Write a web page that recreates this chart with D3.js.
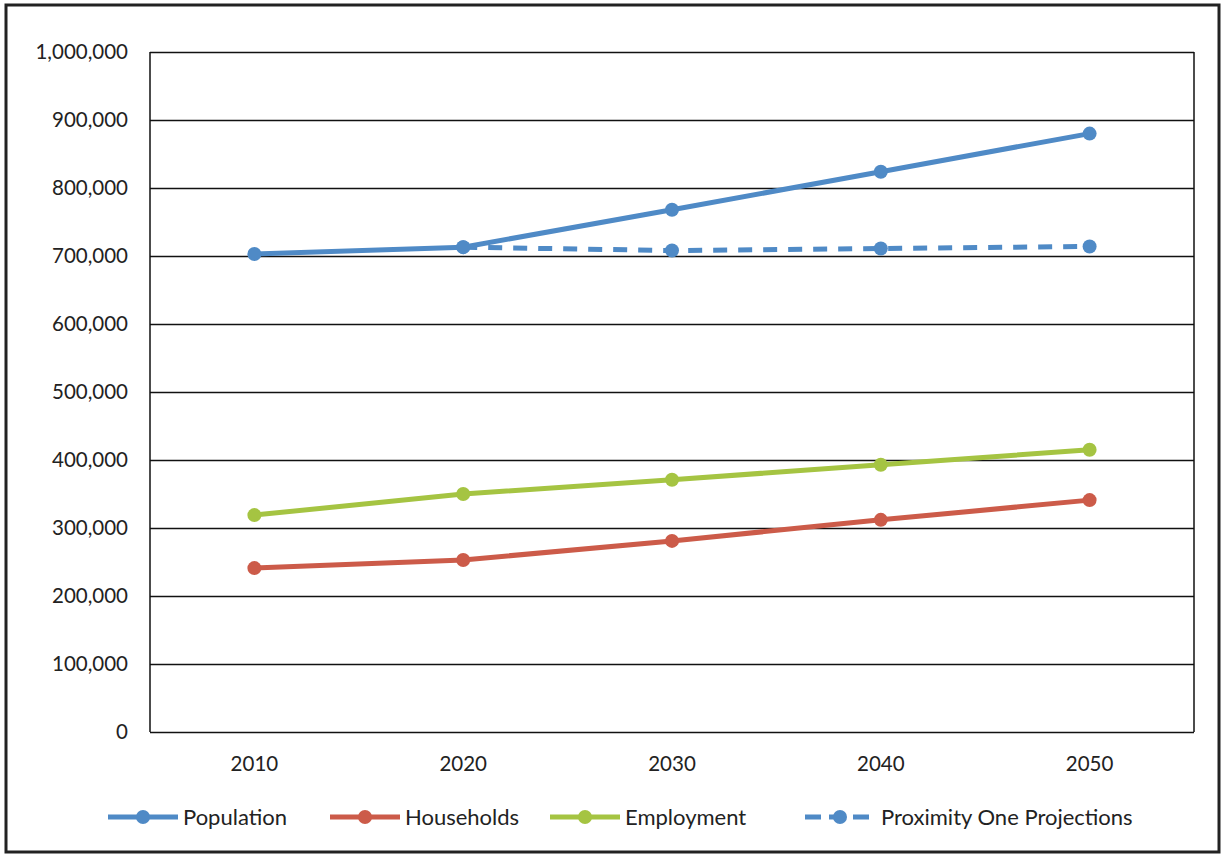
<!DOCTYPE html>
<html>
<head>
<meta charset="utf-8">
<script src="https://cdn.jsdelivr.net/npm/d3@7"></script>
<style>
  body { margin: 0; background: #fff; }
  text { font-family: Lato, "Open Sans", sans-serif; fill: #222; }
</style>
</head>
<body>
<svg id="chart"></svg>
<script>
var years = ["2010", "2020", "2030", "2040", "2050"];
var population = [703000, 713000, 768000, 824000, 880000];
var households = [241000, 253000, 281000, 312000, 341000];
var employment = [319000, 350000, 371000, 393000, 415000];
// projections start at 2020
var projYears = ["2020", "2030", "2040", "2050"];
var projections = [713000, 708000, 711000, 714000];
var yTicks = [0, 100000, 200000, 300000, 400000, 500000, 600000, 700000, 800000, 900000, 1000000];

function init() {
    var w = 1225, h = 858;
    var left = 150, right = 1194, plotTop = 52, bottom = 732;

    var svg = d3.select("#chart").attr("width", w).attr("height", h);

    // outer frame
    svg.append("rect")
        .attr("x", 6).attr("y", 5).attr("width", 1213).attr("height", 847)
        .attr("fill", "none").attr("stroke", "#222").attr("stroke-width", 3);

    var x = d3.scaleBand().domain(years).range([left, right]);
    var y = d3.scaleLinear().domain([0, 1000000]).range([bottom, plotTop]);

    // gridlines + labels
    var yAxis = d3.axisLeft(y)
        .tickValues(yTicks)
        .tickSize(-(right - left))
        .tickPadding(22)
        .tickFormat(d3.format(","));

    svg.append("g")
        .attr("transform", "translate(" + left + ",0)")
        .call(yAxis)
        .call(function(g) {
            g.select(".domain").remove();
            g.selectAll(".tick line").attr("stroke", "#111").attr("stroke-width", 1.5);
            g.selectAll(".tick text").style("font-size", "20.5px").attr("fill", "#222");
        });

    // left and right borders of plot
    svg.append("line").attr("x1", left).attr("x2", left).attr("y1", plotTop).attr("y2", bottom)
        .attr("stroke", "#111").attr("stroke-width", 1.5);
    svg.append("line").attr("x1", right).attr("x2", right).attr("y1", plotTop).attr("y2", bottom)
        .attr("stroke", "#111").attr("stroke-width", 1.5);

    var xAxis = d3.axisBottom(x).tickSize(0).tickPadding(24);
    svg.append("g")
        .attr("transform", "translate(0," + bottom + ")")
        .call(xAxis)
        .call(function(g) {
            g.select(".domain").remove();
            g.selectAll(".tick text").style("font-size", "20.5px").attr("fill", "#222");
        });

    var series = [
        { name: "Population", color: "#4f8ac6", cats: years, vals: population, dash: null },
        { name: "Households", color: "#cc5b49", cats: years, vals: households, dash: null },
        { name: "Employment", color: "#a5c442", cats: years, vals: employment, dash: null },
        { name: "Proximity One Projections", color: "#4f8ac6", cats: projYears, vals: projections, dash: "14,11" }
    ];

    var line = d3.line()
        .x(function(d) { return x(d.c) + x.bandwidth() / 2; })
        .y(function(d) { return y(d.v); });

    series.forEach(function(s) {
        var pts = s.cats.map(function(c, i) { return { c: c, v: s.vals[i] }; });
        var g = svg.append("g");
        g.append("path")
            .datum(pts)
            .attr("d", line)
            .attr("fill", "none")
            .attr("stroke", s.color)
            .attr("stroke-width", 5)
            .attr("stroke-dasharray", s.dash);
        g.selectAll("circle")
            .data(pts)
            .enter()
            .append("circle")
            .attr("cx", function(d) { return x(d.c) + x.bandwidth() / 2; })
            .attr("cy", function(d) { return y(d.v); })
            .attr("r", 7)
            .attr("fill", s.color);
    });

    // legend
    var legendX = [108, 330, 550, 805];
    var legendY = 817;
    series.forEach(function(s, i) {
        var g = svg.append("g").attr("transform", "translate(" + legendX[i] + "," + legendY + ")");
        g.append("line")
            .attr("x1", 0).attr("x2", 70)
            .attr("stroke", s.color).attr("stroke-width", 5)
            .attr("stroke-dasharray", s.dash ? "16,8" : null);
        g.append("circle").attr("cx", 35).attr("r", 7).attr("fill", s.color);
        g.append("text")
            .attr("x", s.dash ? 76 : 75).attr("y", 0).attr("dy", "0.35em")
            .style("font-size", "22px")
            .text(s.name);
    });
}

window.onload = init;
</script>
</body>
</html>
